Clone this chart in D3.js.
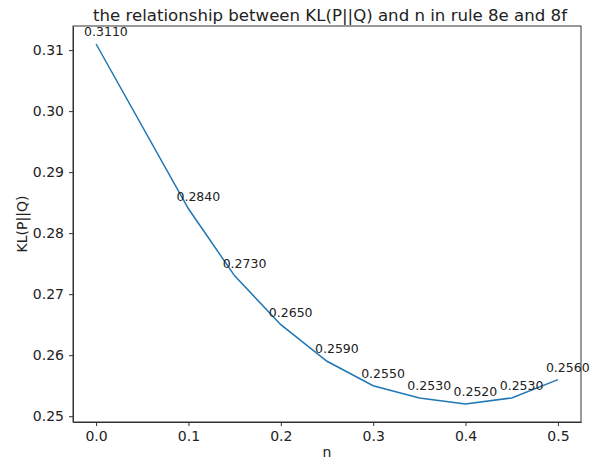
<!DOCTYPE html>
<html lang="en">
<head>
<meta charset="UTF-8" />
<script src="https://cdnjs.cloudflare.com/ajax/libs/d3/7.8.5/d3.min.js"></script>
<style>
  body { margin: 0; background: #fff; }
  text { font-family: 'DejaVu Sans', sans-serif; fill: #222; }
</style>
</head>
<body>
<div class="chart"></div>
<script>
  // data
  const nValues = [0.0, 0.1, 0.15, 0.2, 0.25, 0.3, 0.35, 0.4, 0.45, 0.5]
  const klValues = [0.311, 0.284, 0.273, 0.265, 0.259, 0.255, 0.253, 0.252, 0.253, 0.256]
  const xTicks = [0.0, 0.1, 0.2, 0.3, 0.4, 0.5]
  const yTicks = [0.25, 0.26, 0.27, 0.28, 0.29, 0.30, 0.31]

  const width = 596
  const height = 463
  const margin = { top: 26, right: 15, bottom: 41, left: 73 }

  const svg = d3.select('.chart')
    .append('svg')
    .attr('width', width)
    .attr('height', height)

  // matplotlib style 5% padding around data
  const xPad = (d3.max(nValues) - d3.min(nValues)) * 0.05
  const yPad = (d3.max(klValues) - d3.min(klValues)) * 0.05

  const xScale = d3.scaleLinear()
    .domain([d3.min(nValues) - xPad, d3.max(nValues) + xPad])
    .range([margin.left, width - margin.right])

  const yScale = d3.scaleLinear()
    .domain([d3.min(klValues) - yPad, d3.max(klValues) + yPad])
    .range([height - margin.bottom, margin.top])

  // axes
  svg.append('g')
    .attr('transform', `translate(0, ${height - margin.bottom})`)
    .call(d3.axisBottom(xScale).tickValues(xTicks).tickFormat(d3.format('.1f')).tickSize(4).tickPadding(5).tickSizeOuter(0))

  svg.append('g')
    .attr('transform', `translate(${margin.left}, 0)`)
    .call(d3.axisLeft(yScale).tickValues(yTicks).tickFormat(d3.format('.2f')).tickSize(4).tickPadding(5).tickSizeOuter(0))

  svg.selectAll('.tick text')
    .style('font-size', '14px')
    .style('font-family', "'DejaVu Sans', sans-serif")
    .attr('fill', '#222')

  // frame (all four spines)
  svg.append('rect')
    .attr('x', margin.left)
    .attr('y', margin.top)
    .attr('width', width - margin.left - margin.right)
    .attr('height', height - margin.top - margin.bottom)
    .attr('fill', 'none')
    .attr('stroke', '#333')
    .attr('stroke-width', 1)

  svg.selectAll('.domain').attr('stroke', '#333')
  svg.selectAll('.tick line').attr('stroke', '#333')

  // line
  const points = nValues.map((n, i) => [n, klValues[i]])
  const line = d3.line()
    .x(d => xScale(d[0]))
    .y(d => yScale(d[1]))

  svg.append('path')
    .datum(points)
    .attr('d', line)
    .attr('fill', 'none')
    .attr('stroke', '#1f77b4')
    .attr('stroke-width', 1.5)

  // value labels
  svg.selectAll('.valueLabel')
    .data(points)
    .join('text')
    .attr('class', 'valueLabel')
    .attr('x', d => xScale(d[0]) - 12)
    .attr('y', d => yScale(d[1]) - 8)
    .style('font-size', '12.5px')
    .text(d => d[1].toFixed(4))

  // titles
  svg.append('text')
    .attr('x', 330)
    .attr('y', 21)
    .attr('text-anchor', 'middle')
    .style('font-size', '16.6px')
    .text('the relationship between KL(P||Q) and n in rule 8e and 8f')

  svg.append('text')
    .attr('x', (margin.left + width - margin.right) / 2)
    .attr('y', 457)
    .attr('text-anchor', 'middle')
    .style('font-size', '14px')
    .text('n')

  svg.append('text')
    .attr('transform', `translate(27, ${(margin.top + height - margin.bottom) / 2}) rotate(-90)`)
    .attr('text-anchor', 'middle')
    .style('font-size', '14px')
    .text('KL(P||Q)')
</script>
</body>
</html>
